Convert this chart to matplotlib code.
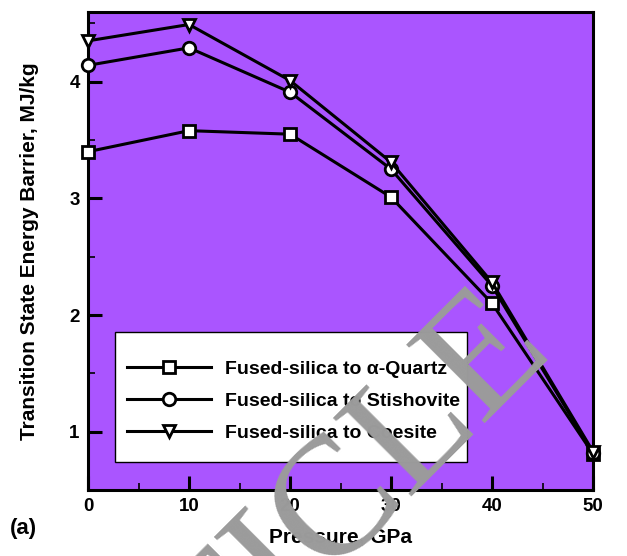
import matplotlib
matplotlib.use("Agg")
import matplotlib.pyplot as plt
from matplotlib.patches import Rectangle
from matplotlib.ticker import MultipleLocator

plt.rcParams['font.family'] = ['Liberation Sans', 'DejaVu Sans']
plt.rcParams['font.weight'] = 'bold'

pressure = [0, 10, 20, 30, 40, 50]
quartz = [3.40, 3.58, 3.55, 3.01, 2.10, 0.81]
stishovite = [4.14, 4.29, 3.91, 3.25, 2.25, 0.82]
coesite = [4.35, 4.49, 4.01, 3.31, 2.28, 0.83]
labels = ["Fused-silica to α-Quartz", "Fused-silica to Stishovite", "Fused-silica to Coesite"]
watermark = "ARTICLE"

W, H = 627, 556
fig = plt.figure(figsize=(W / 100, H / 100), dpi=100)
ax = fig.add_axes([0.1404, 0.1187, 0.8054, 0.8603])
ax.set_facecolor('#AA55FF')

handles = []
for ys, mk, lab in zip([quartz, stishovite, coesite], ['s', 'o', 'v'], labels):
    h, = ax.plot(pressure, ys, color='black', lw=2.2, marker=mk, markersize=9,
                 markerfacecolor='white', markeredgecolor='black', markeredgewidth=2,
                 label=lab, clip_on=False, zorder=3)
    handles.append(h)

ax.set_xlim(0, 50)
ax.set_ylim(0.5, 4.6)
ax.xaxis.set_major_locator(MultipleLocator(10))
ax.xaxis.set_minor_locator(MultipleLocator(5))
ax.yaxis.set_major_locator(MultipleLocator(1))
ax.yaxis.set_minor_locator(MultipleLocator(0.5))
ax.tick_params(which='major', direction='in', length=10, width=2.2, labelsize=13.5, pad=6)
ax.tick_params(which='minor', direction='in', length=5, width=1.2)
for lab in ax.get_xticklabels() + ax.get_yticklabels():
    lab.set_fontweight('bold')
for s in ax.spines.values():
    s.set_linewidth(2.2)

ax.set_xlabel("Pressure, GPa", fontsize=15, fontweight='bold', labelpad=9)
ax.set_ylabel("Transition State Energy Barrier, MJ/kg", fontsize=15, fontweight='bold', labelpad=22)

# legend box
ax.add_patch(Rectangle((0.0535, 0.0586), 0.697, 0.272, transform=ax.transAxes,
                       facecolor='white', edgecolor='black', lw=1.0, zorder=4))
leg = ax.legend(handles=handles, loc='upper left', bbox_to_anchor=(0.078, 0.272),
                frameon=False, fontsize=14, handlelength=4.3, handletextpad=0.7,
                labelspacing=0.75, borderaxespad=0, borderpad=0.0)
leg.set_zorder(5)
for t in leg.get_texts():
    t.set_fontweight('bold')

fig.text(0.016, 0.05, "(a)", fontsize=16, fontweight='bold', ha='left', va='center')

# watermark
fig.text(276 / W, 1 - 572 / H, watermark, fontsize=122, family='Liberation Serif',
         color='#9B9B9B', rotation=45, rotation_mode='anchor', ha='center', va='center',
         fontweight='normal', zorder=10)

fig.savefig("out.png", dpi=100)
